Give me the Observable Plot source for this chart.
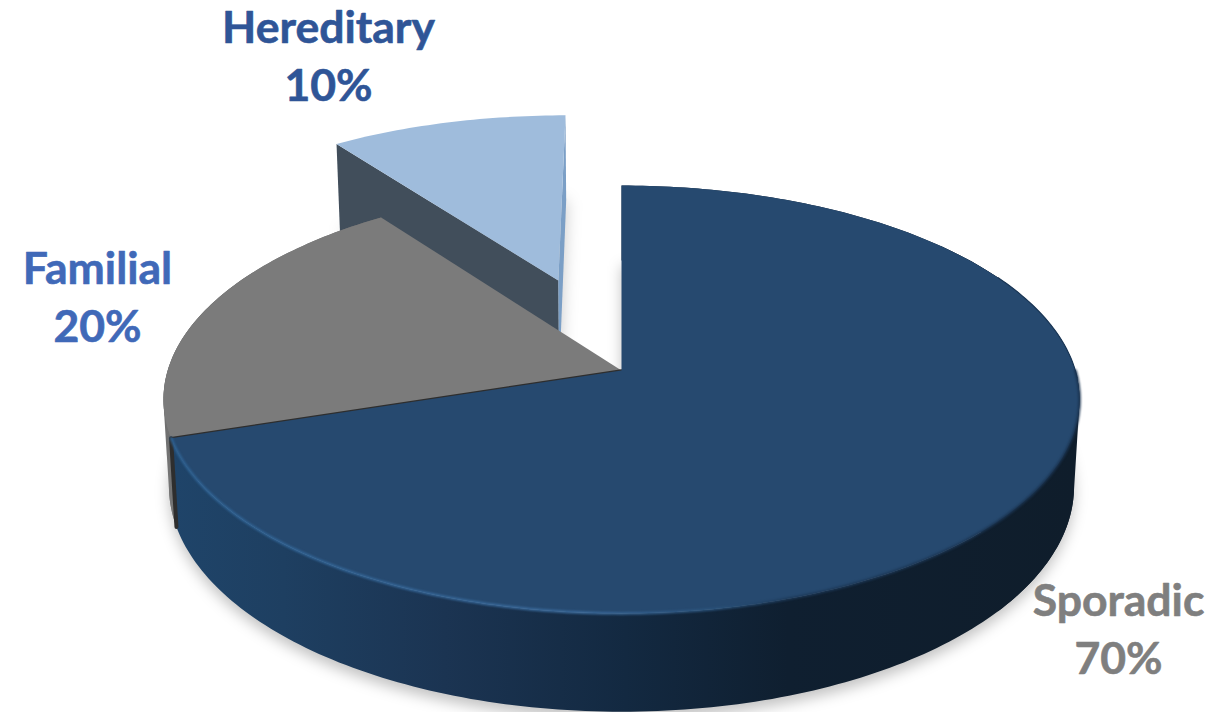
<!DOCTYPE html>
<html>
<head>
<meta charset="utf-8">
<script src="https://cdn.jsdelivr.net/npm/d3@7"></script>
<script src="https://cdn.jsdelivr.net/npm/@observablehq/plot@0.6"></script>
<style>
  html, body { margin: 0; background: #fff; }
  svg { display: block; }
</style>
</head>
<body>
<div id="chart"></div>
<script>
// Share of cases by category, in clockwise order from twelve o'clock
const categories = ["Sporadic", "Familial", "Hereditary"];
const shares = [70, 20, 10];

// Label placement, in chart units
const labelX = [1118, 97, 328];
const labelY = [601, 269, 28];
const labelColors = ["#7f7f7f", "#4069b8", "#2f5597"];

// Perspective of the tilted disc
const view = {cx: 621, cy: 370, a: 453.8, b: 210, k: 0.1355, depth: 85, baseScale: 0.988};
const explodeBy = 0.478;

// Projects a point of the unit disc (angle in degrees, radius r, lifted off-centre) to chart units
function project(deg, r, offset, drop) {
  const t = deg * Math.PI / 180;
  const X = r * Math.sin(t) + offset.x;
  const Z = r * Math.cos(t) + offset.z;
  const w = 1 + view.k * Z;
  const spread = drop > 0 ? view.baseScale : 1;
  return {
    x: view.cx + spread * view.a * X / w,
    y: view.cy - view.b * Z / w + drop / w
  };
}

// Cumulative angles derived from the shares
const total = d3.sum(shares);
const ends = d3.cumsum(shares).map(v => v / total * 360);
const starts = [0, ...ends.slice(0, -1)];

const still = {x: 0, z: 0};
const midHereditary = (starts[2] + ends[2]) / 2 * Math.PI / 180;
const moved = {x: explodeBy * Math.sin(midHereditary), z: explodeBy * Math.cos(midHereditary)};

const sweep = (from, to, offset, drop) => {
  const n = Math.ceil(to - from);
  return d3.range(n + 1).map(j => project(from + (to - from) * j / n, 1, offset, drop));
};
const arc = (i, offset, drop) => sweep(starts[i], ends[i], offset, drop);
const apex = (offset, drop) => project(0, 0, offset, drop);

const wedge = (i, offset, drop = 0) => [apex(offset, drop), ...arc(i, offset, drop)];
const band = (i, offset, drop) => [...arc(i, offset, 0), ...arc(i, offset, drop).reverse()];
const spoke = (deg, offset, drop) => [
  project(deg, 1, offset, 0), apex(offset, 0), apex(offset, drop), project(deg, 1, offset, drop)
];

// Convex outline of a stretch of rim, so the silhouette runs straight from top edge to base edge
const silhouette = (from, to, offset, drop) =>
  d3.polygonHull([...sweep(from, to, offset, 0), ...sweep(from, to, offset, drop)].map(p => [p.x, p.y]))
    .map(([x, y]) => ({x, y}));

const poly = (pts, options) => Plot.line(pts, {x: "x", y: "y", curve: "linear", stroke: "none", ...options});

// Gradients for the rim of the large slice
const defs = () => d3.create("svg:defs").html(`
  <linearGradient id="sideNavy" gradientUnits="userSpaceOnUse" x1="175" x2="1075" y1="0" y2="0">
    <stop offset="0" stop-color="#1f4469"/>
    <stop offset="0.12" stop-color="#1e3f61"/>
    <stop offset="0.3" stop-color="#1b3452"/>
    <stop offset="0.5" stop-color="#132941"/>
    <stop offset="0.68" stop-color="#0f1f30"/>
    <stop offset="1" stop-color="#0f1d2b"/>
  </linearGradient>
  <linearGradient id="rimNavy" gradientUnits="userSpaceOnUse" x1="175" x2="1079" y1="0" y2="0">
    <stop offset="0" stop-color="#2f6496"/>
    <stop offset="0.45" stop-color="#3c6c9e"/>
    <stop offset="0.6" stop-color="#2a527a"/>
    <stop offset="0.68" stop-color="#1c3857"/>
    <stop offset="1" stop-color="#1a3350"/>
  </linearGradient>
  <linearGradient id="sideGray" gradientUnits="userSpaceOnUse" x1="0" x2="0" y1="400" y2="530">
    <stop offset="0" stop-color="#6e6e6e"/>
    <stop offset="1" stop-color="#787878"/>
  </linearGradient>`).node();

const mainFootprint = [
  apex(still, view.depth + 6),
  ...arc(0, still, view.depth + 6),
  ...arc(1, still, view.depth + 6)
];

const labels = categories.flatMap((name, i) => [
  {text: name, x: labelX[i], y: labelY[i], color: labelColors[i]},
  {text: `${shares[i]}%`, x: labelX[i], y: labelY[i] + 58, color: labelColors[i]}
]);

const seam = spoke(ends[0], still, view.depth);

const chart = Plot.plot({
  width: 1215,
  height: 712,
  margin: 0,
  x: {domain: [0, 1215], range: [0, 1215], axis: null},
  y: {domain: [0, 712], range: [0, 712], axis: null},
  marks: [
    defs,
    // Soft shadows under the disc and the pulled-out slice
    poly(mainFootprint, {fill: "#000", fillOpacity: 0.24, imageFilter: "blur(7px)"}),
    poly(wedge(2, moved, view.depth * 1.2), {fill: "#000", fillOpacity: 0.22, imageFilter: "blur(8px)"}),

    // Hereditary: pulled-out slice, walls then top
    poly(spoke(starts[2], moved, view.depth * 1.2), {fill: "#414e5b"}),
    poly(spoke(ends[2], moved, view.depth * 1.2), {fill: "#7b9fc6"}),
    poly(wedge(2, moved), {fill: "#9fbcdc"}),

    // Familial: rim then top
    poly(band(1, still, view.depth), {fill: "url(#sideGray)"}),
    poly(silhouette(ends[0], 300, still, view.depth), {fill: "url(#sideGray)"}),
    poly(wedge(1, still), {fill: "#7b7b7b"}),

    // Sporadic: rim, the dark seam beside it, then top and its bevel
    poly(band(0, still, view.depth), {fill: "url(#sideNavy)"}),
    poly(silhouette(50, 130, still, view.depth), {fill: "url(#sideNavy)"}),
    Plot.line(seam.slice(0, 2), {x: "x", y: "y", stroke: "#2e2e2e", strokeWidth: 2.5}),
    Plot.line([seam[0], seam[3]], {x: "x", y: "y", stroke: "#2e2e2e", strokeWidth: 4}),
    poly(wedge(0, still), {fill: "#26496f"}),
    Plot.line(sweep(62, 92, still, 0), {x: "x", y: "y", stroke: "#1c3857", strokeWidth: 1.2, imageFilter: "blur(0.5px)"}),
    Plot.line(sweep(90, ends[0], still, 0), {x: "x", y: "y", stroke: "url(#rimNavy)", strokeWidth: 2.5, imageFilter: "blur(0.8px)"}),

    Plot.text(labels, {
      x: "x", y: "y", text: "text", fill: d => d.color, stroke: d => d.color, strokeWidth: 0.6,
      fontFamily: "Lato", fontWeight: 700, fontSize: 44.5
    })
  ]
});

document.getElementById("chart").append(chart);
</script>
</body>
</html>
